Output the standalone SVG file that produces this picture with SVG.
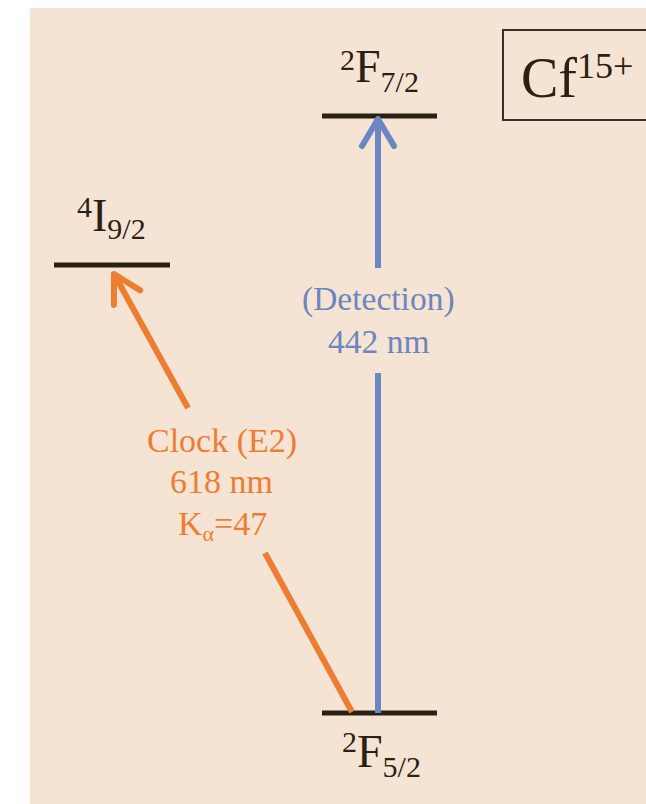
<svg xmlns="http://www.w3.org/2000/svg" width="646" height="804" viewBox="0 0 646 804">
<style>
.t{font-family:"Liberation Serif","Times New Roman",serif}
.lvl{stroke:#2b2014;stroke-width:5;fill:none}
.lab{fill:#2b2014}
.bl{fill:#6d85c0}
.or{fill:#ed7d31}
</style>
<defs>
<marker id="ab" markerUnits="userSpaceOnUse" markerWidth="60" markerHeight="60" refX="30" refY="30" orient="auto" viewBox="0 0 60 60">
<path d="M3,14 L30,30 L3,46" fill="none" stroke="#6d85c0" stroke-width="6" stroke-linecap="round" stroke-linejoin="round"/>
</marker>
<marker id="ao" markerUnits="userSpaceOnUse" markerWidth="60" markerHeight="60" refX="30" refY="30" orient="auto" viewBox="0 0 60 60">
<path d="M3,15 L30,30 L3,45" fill="none" stroke="#ed7d31" stroke-width="6" stroke-linecap="round" stroke-linejoin="round"/>
</marker>
</defs>
<rect width="646" height="804" fill="#ffffff"/>
<rect x="30" y="8" width="616" height="796" fill="#f5e4d3"/>
<g id="title">
<rect x="503" y="30" width="160" height="90" fill="none" stroke="#3a2e20" stroke-width="2"/>
<text class="t lab" x="521" y="97" font-size="56">Cf<tspan font-size="36" dy="-19">15+</tspan></text>
</g>
<g id="level-F72">
<line class="lvl" x1="322" y1="116" x2="437" y2="116"/>
<text class="t lab" x="340" y="82" font-size="46"><tspan font-size="30" dy="-12">2</tspan><tspan dy="12">F</tspan><tspan font-size="30" dy="10">7/2</tspan></text>
</g>
<g id="level-I92">
<line class="lvl" x1="54" y1="265" x2="170" y2="265"/>
<text class="t lab" x="77" y="231" font-size="46"><tspan font-size="30" dy="-14">4</tspan><tspan dy="14">I</tspan><tspan font-size="30" dy="8">9/2</tspan></text>
</g>
<g id="level-F52">
<line class="lvl" x1="322" y1="713" x2="437" y2="713"/>
<text class="t lab" x="342" y="767" font-size="46"><tspan font-size="30" dy="-15">2</tspan><tspan dy="15">F</tspan><tspan font-size="30" dy="10">5/2</tspan></text>
</g>
<g id="connectors">
<g id="detection">
<line x1="378" y1="713" x2="378" y2="373" stroke="#6d85c0" stroke-width="6"/>
<line x1="378" y1="268" x2="378" y2="119" stroke="#6d85c0" stroke-width="6" marker-end="url(#ab)"/>
<text class="t bl" x="302" y="310" font-size="33.5">(Detection)</text>
<text class="t bl" x="328" y="353" font-size="33.5">442 nm</text>
</g>
<g id="clock">
<line x1="352" y1="712" x2="265" y2="553" stroke="#ed7d31" stroke-width="6"/>
<line x1="188" y1="408" x2="114" y2="274" stroke="#ed7d31" stroke-width="6" marker-end="url(#ao)"/>
<text class="t or" x="147" y="452" font-size="34">Clock (E2)</text>
<text class="t or" x="170" y="493" font-size="34">618 nm</text>
<text class="t or" x="178" y="535" font-size="34">K<tspan font-size="22" dy="6">α</tspan><tspan dy="-6">=47</tspan></text>
</g>
</g>
</svg>
